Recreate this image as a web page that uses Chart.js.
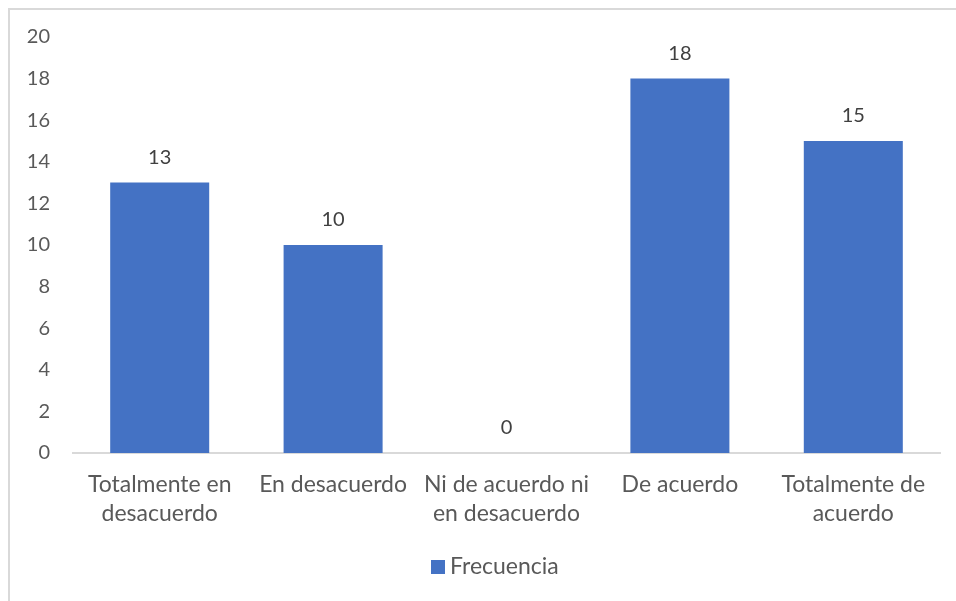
<!DOCTYPE html>
<html>
<head>
<meta charset="utf-8">
<script src="https://cdn.jsdelivr.net/npm/chart.js@4.4.0/dist/chart.umd.min.js"></script>
<style>
html,body{margin:0;padding:0;background:#fff;}
#wrap{position:relative;width:956px;height:601px;overflow:hidden;}
canvas{position:absolute;left:0;top:0;}
</style>
</head>
<body>
<div id="wrap"><canvas id="c" width="956" height="601"></canvas></div>
<script>
const categories = [
  ["Totalmente en", "desacuerdo"],
  "En desacuerdo",
  ["Ni de acuerdo ni", "en desacuerdo"],
  "De acuerdo",
  ["Totalmente de", "acuerdo"]
];
const seriesName = "Frecuencia";
const values = [13, 10, 0, 18, 15];
const yMin = 0, yMax = 20, yStep = 2;

const FONT = "Lato, 'Noto Sans', sans-serif";
const FS_TEXT = 23;
const FS_NUM = 20;
const BAR_COLOR = '#4472C4';

const frame = {
  id: 'frame',
  beforeDraw(chart) {
    const ctx = chart.ctx;
    ctx.save();
    ctx.fillStyle = '#ffffff';
    ctx.fillRect(0, 0, chart.width, chart.height);
    ctx.strokeStyle = '#d9d9d9';
    ctx.lineWidth = 2;
    ctx.beginPath();
    ctx.moveTo(9, chart.height + 5);
    ctx.lineTo(9, 9);
    ctx.lineTo(chart.width + 5, 9);
    ctx.stroke();
    ctx.restore();
  }
};

const dataLabels = {
  id: 'dataLabels',
  afterDatasetsDraw(chart) {
    const ctx = chart.ctx;
    ctx.save();
    ctx.font = FS_NUM + "px " + FONT;
    ctx.fillStyle = '#404040';
    ctx.textAlign = 'center';
    ctx.textBaseline = 'middle';
    chart.getDatasetMeta(0).data.forEach((bar, i) => {
      ctx.fillText(String(values[i]), bar.x, bar.y - 25);
    });
    ctx.restore();
  }
};

const customLegend = {
  id: 'customLegend',
  afterDraw(chart) {
    const ctx = chart.ctx;
    const cy = 567;
    ctx.save();
    ctx.fillStyle = BAR_COLOR;
    ctx.fillRect(431, cy - 7, 14, 14);
    ctx.font = FS_TEXT + "px " + FONT;
    ctx.fillStyle = '#595959';
    ctx.textAlign = 'left';
    ctx.textBaseline = 'middle';
    ctx.fillText(seriesName, 450, cy);
    ctx.restore();
  }
};

new Chart(document.getElementById('c'), {
  type: 'bar',
  data: {
    labels: categories,
    datasets: [{
      label: seriesName,
      data: values,
      backgroundColor: BAR_COLOR,
      borderWidth: 0,
      barPercentage: 0.571,
      categoryPercentage: 1.0
    }]
  },
  options: {
    responsive: false,
    animation: false,
    devicePixelRatio: 1,
    layout: { padding: { left: 0, right: 16, top: 37, bottom: 60 } },
    plugins: {
      legend: { display: false },
      tooltip: { enabled: false }
    },
    scales: {
      x: {
        grid: { display: false, drawTicks: false },
        border: { display: true, color: '#d9d9d9', width: 2 },
        ticks: {
          color: '#595959',
          font: { size: FS_TEXT, family: FONT, lineHeight: 1.26 },
          padding: 17,
          maxRotation: 0,
          autoSkip: false
        },
        afterFit(s) { s.height = 88; }
      },
      y: {
        min: yMin, max: yMax,
        grid: { display: false, drawTicks: false },
        border: { display: false },
        ticks: {
          stepSize: yStep,
          color: '#595959',
          font: { size: FS_NUM, family: FONT },
          padding: 23
        },
        afterFit(s) { s.width = 73; }
      }
    }
  },
  plugins: [frame, dataLabels, customLegend]
});
</script>
</body>
</html>
